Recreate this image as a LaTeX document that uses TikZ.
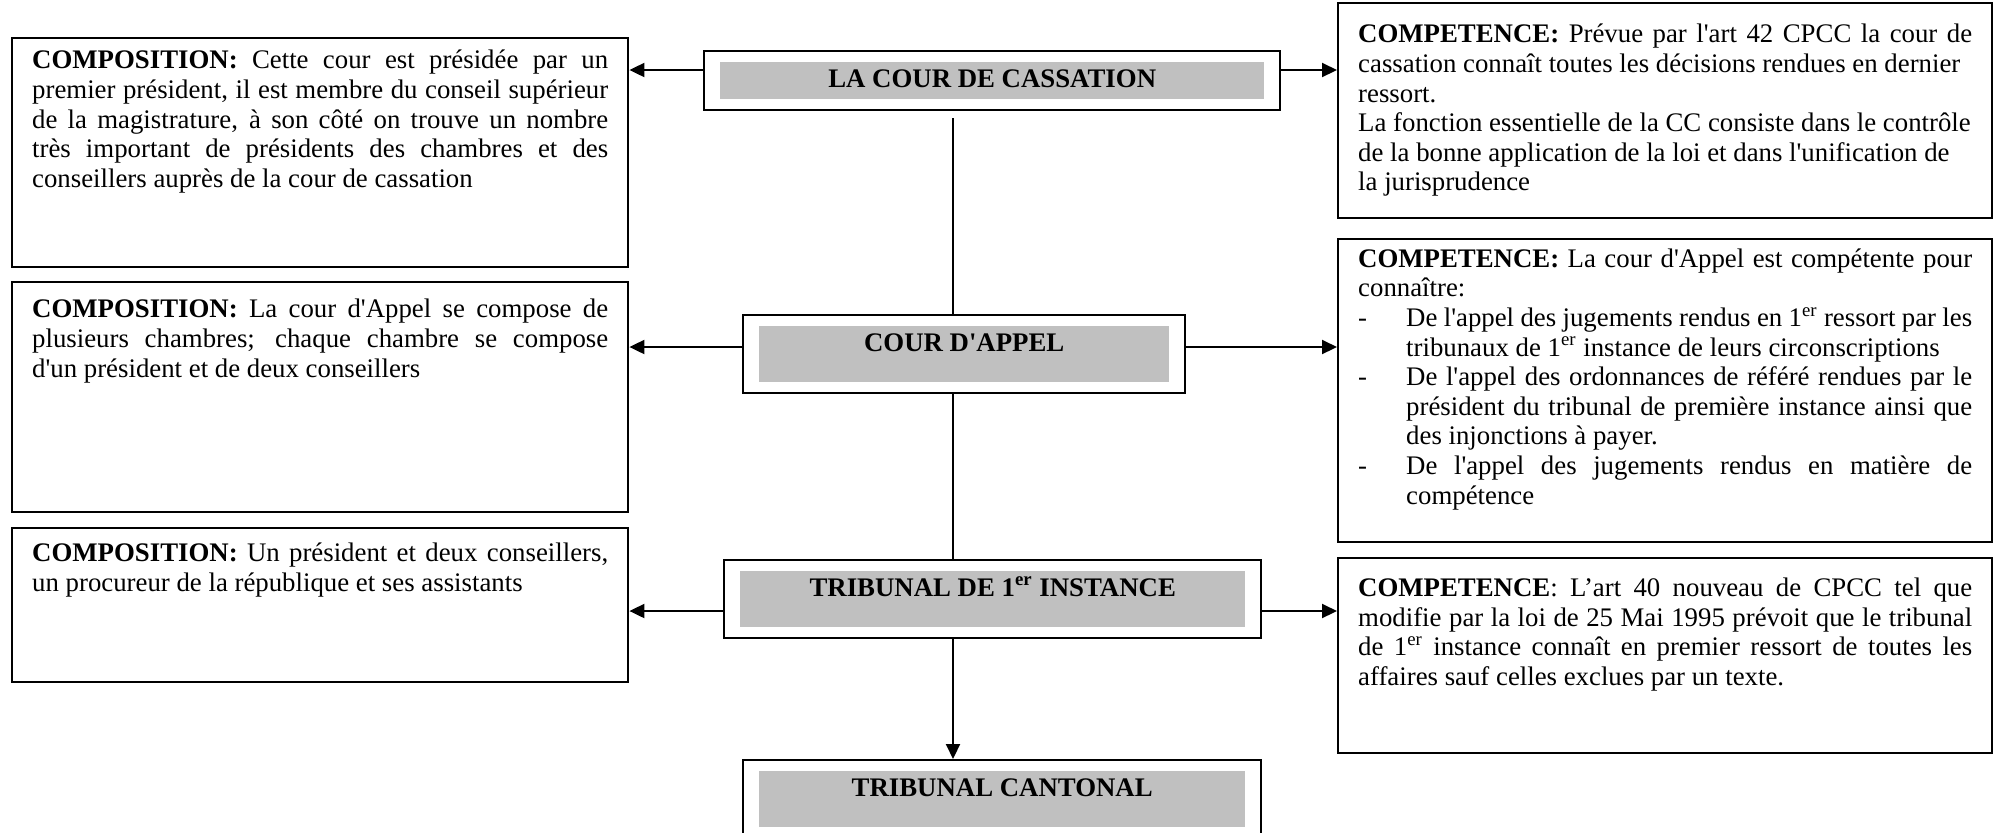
\documentclass[tikz,border=0pt]{standalone}
\usepackage{fontspec}
\setmainfont{Liberation Serif}[Ligatures=TeXOff]
\usetikzlibrary{arrows.meta,calc}
\definecolor{labelgray}{RGB}{192,192,192}
\setlength{\fboxsep}{0pt}
\newcommand{\boxtext}[4][0pt]{\parbox[t][#3][t]{#2}{\vspace*{#1}\strut#4}}
\newcommand{\courtlabel}[3]{\colorbox{labelgray}{\parbox[t][#2][t]{#1}{\centering\rule{0pt}{12.5pt}#3}}}
\newcommand{\dashitem}{\par\hangindent=24pt\hangafter=1\noindent\makebox[24pt][l]{-}}

\tikzset{
  infobox/.style={draw, line width=1.2pt, anchor=north west, inner xsep=10pt, inner ysep=5pt,
    font=\fontsize{13.4}{14.8}\selectfont},
  courtbox/.style={draw, line width=1.2pt, anchor=north west, inner xsep=8pt, inner ysep=5.5pt,
    font=\fontsize{13.4}{14.8}\selectfont\bfseries}
}

\begin{document}
\begin{tikzpicture}[x=0.5pt, y=-0.5pt, >={Triangle[length=7.5pt,width=7pt]}, line width=1pt]
	\useasboundingbox (0,0) rectangle (1995,832);
	\coordinate (spine) at (953,0);
	\node[courtbox] (cass) at (703,50) {\courtlabel{272pt}{18.5pt}{LA COUR DE CASSATION}};
	\node[courtbox] (appel) at (742,314) {\courtlabel{205pt}{28pt}{COUR D'APPEL}};
	\node[courtbox] (trib) at (723,559) {\courtlabel{252.5pt}{28pt}{TRIBUNAL DE 1\textsuperscript{er} INSTANCE}};
	\node[courtbox] (canton) at (742,759) {\courtlabel{243pt}{28pt}{TRIBUNAL CANTONAL}};

	\node[infobox] (compcass) at (11,37) {\boxtext{288pt}{104.5pt}{\textbf{COMPOSITION:} Cette cour est présidée par un\linebreak premier président, il est membre du conseil supérieur\linebreak de la magistrature, à son côté on trouve un nombre\linebreak très important de présidents des chambres et des\linebreak conseillers auprès de la cour de cassation}};
	\node[infobox] (compappel) at (11,281) {\boxtext[2.5pt]{288pt}{105pt}{\textbf{COMPOSITION:} La cour d'Appel se compose de\linebreak plusieurs chambres; chaque chambre se compose\linebreak d'un président et de deux conseillers}};
	\node[infobox] (comptrib) at (11,527) {\boxtext[1.3pt]{288pt}{67pt}{\textbf{COMPOSITION:} Un président et deux conseillers,\linebreak un procureur de la république et ses assistants}};

	\node[infobox] (competcass) at (1337,2) {\boxtext[4.5pt]{307pt}{97.5pt}{\textbf{COMPETENCE:} Prévue par l'art 42 CPCC la cour de\linebreak cassation connaît toutes les décisions rendues en dernier\newline ressort.\newline La fonction essentielle de la CC consiste dans le contrôle\newline de la bonne application de la loi et dans l'unification de\newline la jurisprudence}};
	\node[infobox] (competappel) at (1337,238) {\boxtext[-1.3pt]{307pt}{141.5pt}{\textbf{COMPETENCE:} La cour d'Appel est compétente pour\linebreak connaître:
		\dashitem De l'appel des jugements rendus en 1\textsuperscript{er} ressort par les\linebreak tribunaux de 1\textsuperscript{er} instance de leurs circonscriptions
		\dashitem De l'appel des ordonnances de référé rendues par le\linebreak président du tribunal de première instance ainsi que\linebreak des injonctions à payer.
		\dashitem De l'appel des jugements rendus en matière de\linebreak compétence}};
	\node[infobox] (competrib) at (1337,557) {\boxtext[3.8pt]{307pt}{87.5pt}{\textbf{COMPETENCE}: L’art 40 nouveau de CPCC tel que\linebreak modifie par la loi de 25 Mai 1995 prévoit que le tribunal\linebreak de 1\textsuperscript{er} instance connaît en premier ressort de toutes les\linebreak affaires sauf celles exclues par un texte.}};

	\draw ($(cass.south -| spine)+(0,7)$) -- (appel.north -| spine);
	\draw (appel.south -| spine) -- (trib.north -| spine);
	\draw[->] (trib.south -| spine) -- (canton.north -| spine);

	\draw[->] (cass.west |- 0,70) -- (compcass.east |- 0,70);
	\draw[->] (cass.east |- 0,70) -- (competcass.west |- 0,70);
	\draw[->] (appel.west |- 0,347) -- (compappel.east |- 0,347);
	\draw[->] (appel.east |- 0,347) -- (competappel.west |- 0,347);
	\draw[->] (trib.west |- 0,611) -- (comptrib.east |- 0,611);
	\draw[->] (trib.east |- 0,611) -- (competrib.west |- 0,611);
\end{tikzpicture}
\end{document}
